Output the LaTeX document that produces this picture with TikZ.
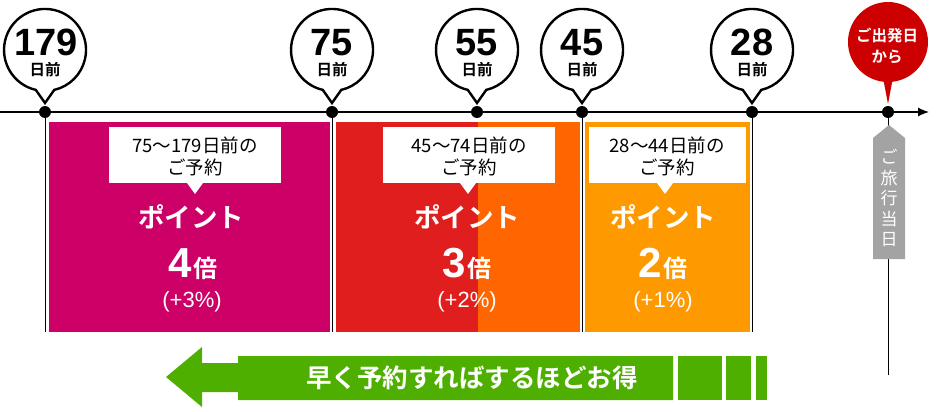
\documentclass[tikz,border=0pt]{standalone}
\usepackage{fontspec}
\setmainfont{Noto Sans CJK JP}[BoldFont={Noto Sans CJK JP Bold}]
\newfontfamily\numfont{Liberation Sans}
\usetikzlibrary{arrows.meta}

\definecolor{pmag}{HTML}{CC0066}
\definecolor{pred}{HTML}{E01E1E}
\definecolor{porange}{HTML}{FF6600}
\definecolor{pamber}{HTML}{FF9900}
\definecolor{pdepart}{HTML}{CC0000}
\definecolor{pgray}{HTML}{A3A3A3}
\definecolor{pgreen}{HTML}{4FAF00}

\begin{document}
\begin{tikzpicture}[x=1pt,y=-1pt,
    bubble/.style={draw=black,line width=2.4pt,fill=white},
    daynum/.style={font=\numfont\bfseries\fontsize{38}{38}\selectfont,inner sep=0pt,anchor=base},
    dayword/.style={font=\bfseries\fontsize{15.5}{15.5}\selectfont,inner sep=0pt},
    callout/.style={align=center,font=\fontsize{18.5}{22}\selectfont,inner sep=0pt},
    pointlbl/.style={text=white,font=\bfseries\fontsize{26.5}{26.5}\selectfont,inner sep=0pt},
    rate/.style={text=white,inner sep=0pt,anchor=base},
    pct/.style={text=white,font=\numfont\fontsize{22}{22}\selectfont,inner sep=0pt}]
  \useasboundingbox (0,0) rectangle (937,412);

  % coloured bands
  \fill[pmag] (49,122) rectangle (330,332);
  \fill[pred] (336,122) rectangle (478,332);
  \fill[porange] (478,122) rectangle (580,332);
  \fill[pamber] (585,122) rectangle (750,332);

  % white callouts
  \fill[white] (109,127) rectangle (281,183);
  \fill[white] (187,183) -- (195,194) -- (203,183) -- cycle;
  \fill[white] (383,127) rectangle (555,183);
  \fill[white] (460,183) -- (468,194) -- (476,183) -- cycle;
  \fill[white] (589,127) rectangle (746,183);
  \fill[white] (657,183) -- (665,194) -- (673,183) -- cycle;

  \node[callout] (q4) at (195,156) {75〜179日前の\\ご予約};
  \node[callout] (q3) at (469,156) {45〜74日前の\\ご予約};
  \node[callout] (q2) at (667,156) {28〜44日前の\\ご予約};

  \node[pointlbl] (p4) at (191,217) {ポイント};
  \node[pointlbl] (p3) at (467,217) {ポイント};
  \node[pointlbl] (p2) at (663,217) {ポイント};

  \node[rate] (r4) at (193,277) {{\numfont\bfseries\fontsize{42}{42}\selectfont 4}\,{\bfseries\fontsize{24}{24}\selectfont 倍}};
  \node[rate] (r3) at (467,277) {{\numfont\bfseries\fontsize{42}{42}\selectfont 3}\,{\bfseries\fontsize{24}{24}\selectfont 倍}};
  \node[rate] (r2) at (663,277) {{\numfont\bfseries\fontsize{42}{42}\selectfont 2}\,{\bfseries\fontsize{24}{24}\selectfont 倍}};

  \node[pct] (e4) at (192,302) {(+3\%)};
  \node[pct] (e3) at (467,302) {(+2\%)};
  \node[pct] (e2) at (663,302) {(+1\%)};

  % timeline
  \coordinate (tstart) at (0,112);
  \coordinate (tend) at (929,112);
  \coordinate (t179) at (45,112);
  \coordinate (t75) at (332,112);
  \coordinate (t55) at (477,112);
  \coordinate (t45) at (582,112);
  \coordinate (t28) at (752,112);
  \coordinate (t0) at (888,112);
  \coordinate (b179) at (45,332);
  \coordinate (b75) at (332,332);
  \coordinate (b45) at (582,332);
  \coordinate (b28) at (752,332);
  \coordinate (b0) at (888,375);

  \draw[line width=0.9pt] (t179) -- (b179);
  \draw[line width=0.9pt] (t75) -- (b75);
  \draw[line width=0.9pt] (t45) -- (b45);
  \draw[line width=0.9pt] (t28) -- (b28);
  \draw[line width=0.9pt] (t0) -- (b0);
  \draw[line width=1.2pt,-{Latex[length=11pt,width=9pt]}] (tstart) -- (tend);

  \fill (t179) circle (6);
  \fill (t75) circle (6);
  \fill (t55) circle (6);
  \fill (t45) circle (6);
  \fill (t28) circle (6);
  \fill (t0) circle (6);

  % speech bubbles
  \draw[bubble] (45,103) -- (35.8,89.9) arc[start angle=103,end angle=437,radius=41] -- cycle;
  \draw[bubble] (332,103) -- (322.8,89.9) arc[start angle=103,end angle=437,radius=41] -- cycle;
  \draw[bubble] (477,103) -- (467.8,89.9) arc[start angle=103,end angle=437,radius=41] -- cycle;
  \draw[bubble] (582,103) -- (572.8,89.9) arc[start angle=103,end angle=437,radius=41] -- cycle;
  \draw[bubble] (752,103) -- (742.8,89.9) arc[start angle=103,end angle=437,radius=41] -- cycle;
  \fill[pdepart] (888,104) -- (883.8,81.8) arc[start angle=96,end angle=444,radius=40] -- cycle;

  \node[daynum] (n179) at (46,56) {179};
  \node[daynum] (n75) at (332,56) {75};
  \node[daynum] (n55) at (477,56) {55};
  \node[daynum] (n45) at (582,56) {45};
  \node[daynum] (n28) at (752,56) {28};
  \node[dayword] (w179) at (45,70) {日前};
  \node[dayword] (w75) at (332,70) {日前};
  \node[dayword] (w55) at (477,70) {日前};
  \node[dayword] (w45) at (582,70) {日前};
  \node[dayword] (w28) at (752,70) {日前};
  \node[text=white,align=center,font=\bfseries\fontsize{15.5}{21}\selectfont,inner sep=0pt] (dep) at (887,46) {ご出発日\\から};

  % travel day tag
  \fill[pgray] (873,259) -- (873,138) -- (889,125) -- (905,138) -- (905,259) -- cycle;
  \node[text=white,align=center,font=\fontsize{17}{20.5}\selectfont,inner sep=0pt] (tday) at (889,198) {ご\\旅\\行\\当\\日};

  % green arrow
  \fill[pgreen] (166,377) -- (202,347) -- (202,363) -- (238,363) -- (238,356) -- (673,356)
    -- (673,400) -- (238,400) -- (238,392) -- (202,392) -- (202,407) -- cycle;
  \fill[pgreen] (678,356) rectangle (722,400);
  \fill[pgreen] (726,356) rectangle (751,400);
  \fill[pgreen] (756,356) rectangle (767,400);
  \node[text=white,font=\bfseries\fontsize{25.5}{25.5}\selectfont,inner sep=0pt] (early) at (472,378) {早く予約すればするほどお得};
\end{tikzpicture}
\end{document}
